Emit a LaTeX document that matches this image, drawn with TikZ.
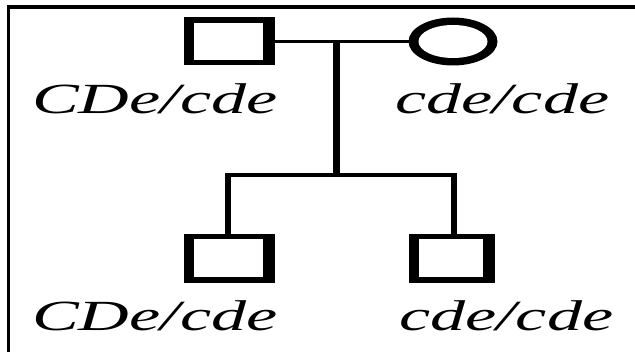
\documentclass[tikz,border=0pt]{standalone}
\usepackage{fontspec}
\setmainfont{Liberation Serif}
\usepackage{graphicx}
\usetikzlibrary{shapes.geometric,calc}
\begin{document}
\begin{tikzpicture}[x=1pt,y=-1pt,
  malebox/.style={rectangle, fill=black, inner sep=0pt, outer sep=0pt, minimum height=48pt},
  femaleoval/.style={ellipse, fill=black, inner sep=0pt, outer sep=0pt, minimum width=89pt, minimum height=48pt},
  hole/.style={fill=white},
  hline/.style={line width=3pt},
  sibline/.style={line width=4pt, line cap=rect},
  vline/.style={line width=6.5pt},
  geno/.style={anchor=base west, inner sep=0pt, font=\fontsize{43}{43}\selectfont\itshape}]
\useasboundingbox (0,0) rectangle (635,352);
% frame edges (top and left)
\fill (7,5) rectangle (635,9);
\fill (7,5) rectangle (10,352);

% parents
\node[malebox, minimum width=91pt] (father) at (229.5,41.5) {};
\fill[hole] ($(father.north west)+(10,6)$) rectangle ($(father.south east)+(-12,-5)$);
\node[femaleoval] (mother) at (453,41.5) {};
\fill[hole] (mother.center) ellipse [x radius=34.5, y radius=16.5];

% children
\node[malebox, minimum width=91pt, minimum height=49pt] (child1) at (229.5,258.5) {};
\fill[hole] ($(child1.north west)+(10,5)$) rectangle ($(child1.south east)+(-12,-6)$);
\node[malebox, minimum width=86pt, minimum height=49pt] (child2) at (452,258.5) {};
\fill[hole] ($(child2.north west)+(10,5)$) rectangle ($(child2.south east)+(-12,-6)$);

% mating line and descent
\coordinate (mid) at (336.5,41.5);
\coordinate (fork) at (336.5,177.5);
\coordinate (sibL) at (228,175.5);
\coordinate (sibR) at (454,175.5);
\draw[hline] (father.east) -- (mother.west);
\draw[vline] (mid) -- (fork);
\draw[sibline] (sibL) -- (sibR);
\draw[vline] ($(sibL)+(0,-2)$) -- (sibL |- child1.north);
\draw[vline] ($(sibR)+(0,-2)$) -- (sibR |- child2.north);

% genotypes
\node[geno] (g1) at (32,114) {\scalebox{1.63}[1]{CDe/cde}};
\node[geno] (g2) at (395,114) {\scalebox{1.63}[1]{cde/cde}};
\node[geno] (g3) at (32,331) {\scalebox{1.63}[1]{CDe/cde}};
\node[geno] (g4) at (399,331) {\scalebox{1.63}[1]{cde/cde}};
\end{tikzpicture}
\end{document}
